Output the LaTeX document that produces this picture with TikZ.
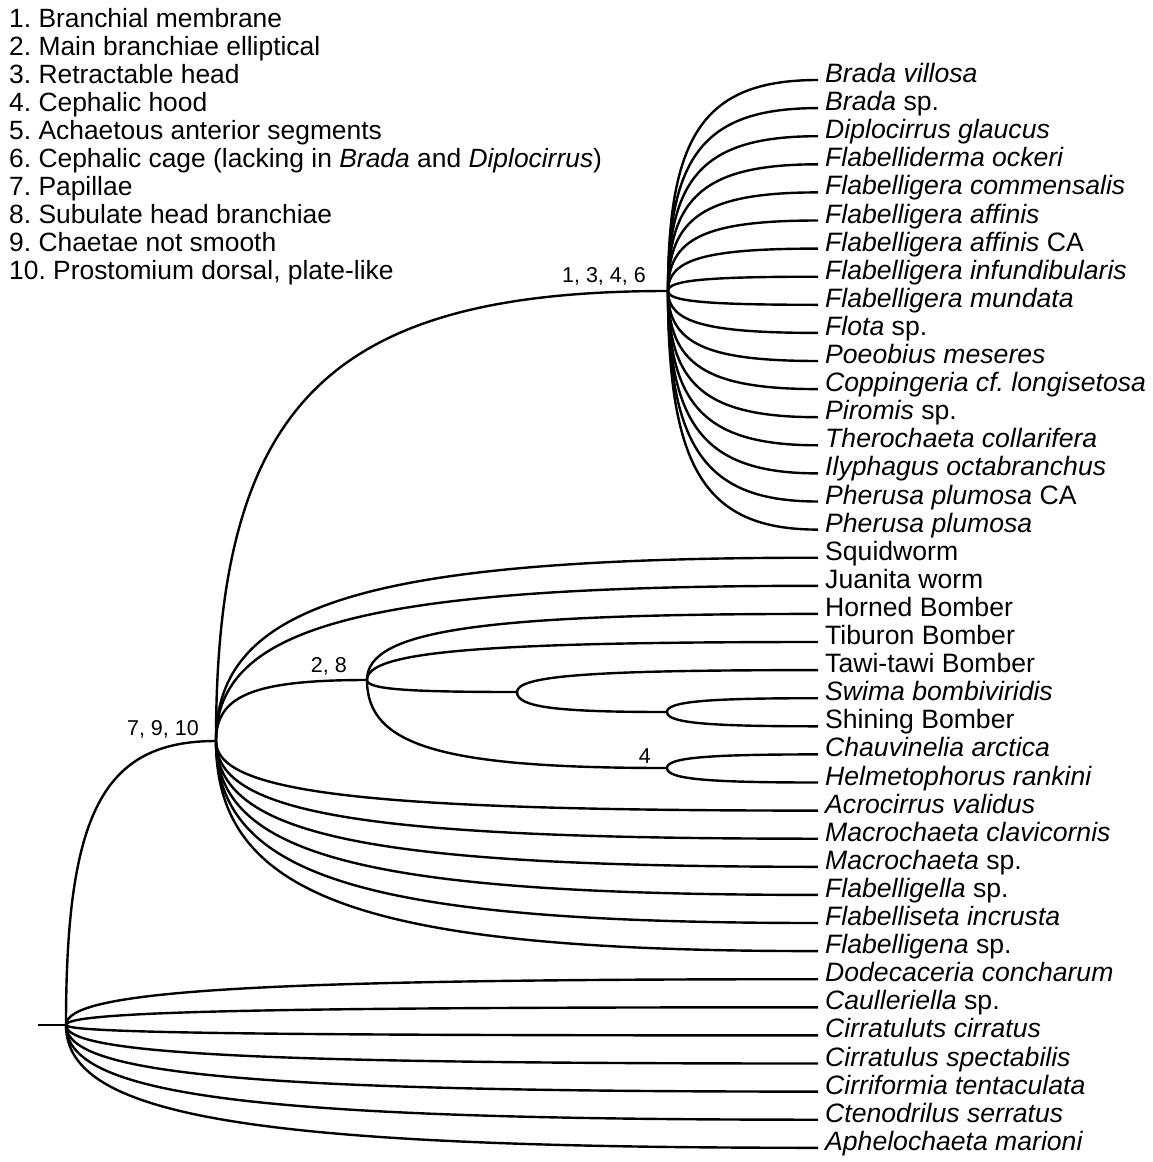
\documentclass[tikz,border=0pt]{standalone}
\usepackage{fontspec}
\setmainfont{Liberation Sans}
\frenchspacing
\usetikzlibrary{calc}

\tikzset{
  branch/.style={to path={.. controls ($(\tikztostart)!0.75!(\tikztostart|-\tikztotarget)$) and ($(\tikztotarget)!0.75!(\tikztostart|-\tikztotarget)$) .. (\tikztotarget) \tikztonodes}},
  leaf/.style={anchor=west, inner xsep=6pt, inner ysep=0pt, text height=0.65em, text depth=0.15em, font=\fontsize{26.6}{28}\selectfont},
  charlabel/.style={anchor=base east, inner sep=0pt, font=\fontsize{21.5}{24}\selectfont},
  keyline/.style={anchor=base west, inner sep=0pt, font=\fontsize{26.4}{28}\selectfont}
}

\begin{document}
\begin{tikzpicture}[x=1pt, y=-1pt, line width=2.4pt]
    \useasboundingbox (0,0) rectangle (1152,1162);

    \foreach \i/\txt in {0/{1. Branchial membrane}, 1/{2. Main branchiae elliptical},
        2/{3. Retractable head}, 3/{4. Cephalic hood}, 4/{5. Achaetous anterior segments},
        5/{6. Cephalic cage (lacking in \textit{Brada} and \textit{Diplocirrus})},
        6/{7. Papillae}, 7/{8. Subulate head branchiae}, 8/{9. Chaetae not smooth},
        9/{10. Prostomium dorsal, plate-like}}
        \node[keyline] (key\i) at (8, 27+28.1*\i) {\txt};

    \foreach \n/\txt in {0/{\textit{Brada villosa}}, 1/{\textit{Brada} sp.},
        2/{\textit{Diplocirrus glaucus}}, 3/{\textit{Flabelliderma ockeri}},
        4/{\textit{Flabelligera commensalis}}, 5/{\textit{Flabelligera affinis}},
        6/{\textit{Flabelligera affinis} CA}, 7/{\textit{Flabelligera infundibularis}},
        8/{\textit{Flabelligera mundata}}, 9/{\textit{Flota} sp.},
        10/{\textit{Poeobius meseres}}, 11/{\textit{Coppingeria cf. longisetosa}},
        12/{\textit{Piromis} sp.}, 13/{\textit{Therochaeta collarifera}},
        14/{\textit{Ilyphagus octabranchus}}, 15/{\textit{Pherusa plumosa} CA},
        16/{\textit{Pherusa plumosa}}, 17/{Squidworm}, 18/{Juanita worm},
        19/{Horned Bomber}, 20/{Tiburon Bomber}, 21/{Tawi-tawi Bomber},
        22/{\textit{Swima bombiviridis}}, 23/{Shining Bomber},
        24/{\textit{Chauvinelia arctica}}, 25/{\textit{Helmetophorus rankini}},
        26/{\textit{Acrocirrus validus}}, 27/{\textit{Macrochaeta clavicornis}},
        28/{\textit{Macrochaeta} sp.}, 29/{\textit{Flabelligella} sp.},
        30/{\textit{Flabelliseta incrusta}}, 31/{\textit{Flabelligena} sp.},
        32/{\textit{Dodecaceria concharum}}, 33/{\textit{Caulleriella} sp.},
        34/{\textit{Cirratuluts cirratus}}, 35/{\textit{Cirratulus spectabilis}},
        36/{\textit{Cirriformia tentaculata}}, 37/{\textit{Ctenodrilus serratus}},
        38/{\textit{Aphelochaeta marioni}}}
        \node[leaf] (l\n) at (818, 80+28.1*\n) {\txt};

    \coordinate (stub) at (38,1025);
    \coordinate (root) at (66,1025);
    \coordinate (n7910) at (216,741);
    \coordinate (n1346) at (668,291);
    \coordinate (n28) at (367,680);
    \coordinate (nB) at (517,692);
    \coordinate (nC) at (667,712);
    \coordinate (n4) at (667,768);

    \node[charlabel] (c7910) at (200,735) {7, 9, 10};
    \node[charlabel] (c1346) at (647,282) {1, 3, 4, 6};
    \node[charlabel] (c28) at (348,672) {2, 8};
    \node[charlabel] (c4) at (652,763) {4};

    \draw (stub) -- (root);
    \draw[branch] (root) to (n7910);
    \foreach \n in {32,...,38}
        \draw[branch] (root) to (l\n.west);
    \draw[branch] (n7910) to (n1346);
    \draw[branch] (n7910) to (n28);
    \foreach \n in {17,18,26,27,28,29,30,31}
        \draw[branch] (n7910) to (l\n.west);
    \foreach \n in {0,...,16}
        \draw[branch] (n1346) to (l\n.west);
    \draw[branch] (n28) to (l19.west);
    \draw[branch] (n28) to (l20.west);
    \draw[branch] (n28) to (nB);
    \draw[branch] (n28) to (n4);
    \draw[branch] (nB) to (l21.west);
    \draw[branch] (nB) to (nC);
    \draw[branch] (nC) to (l22.west);
    \draw[branch] (nC) to (l23.west);
    \draw[branch] (n4) to (l24.west);
    \draw[branch] (n4) to (l25.west);
\end{tikzpicture}
\end{document}
